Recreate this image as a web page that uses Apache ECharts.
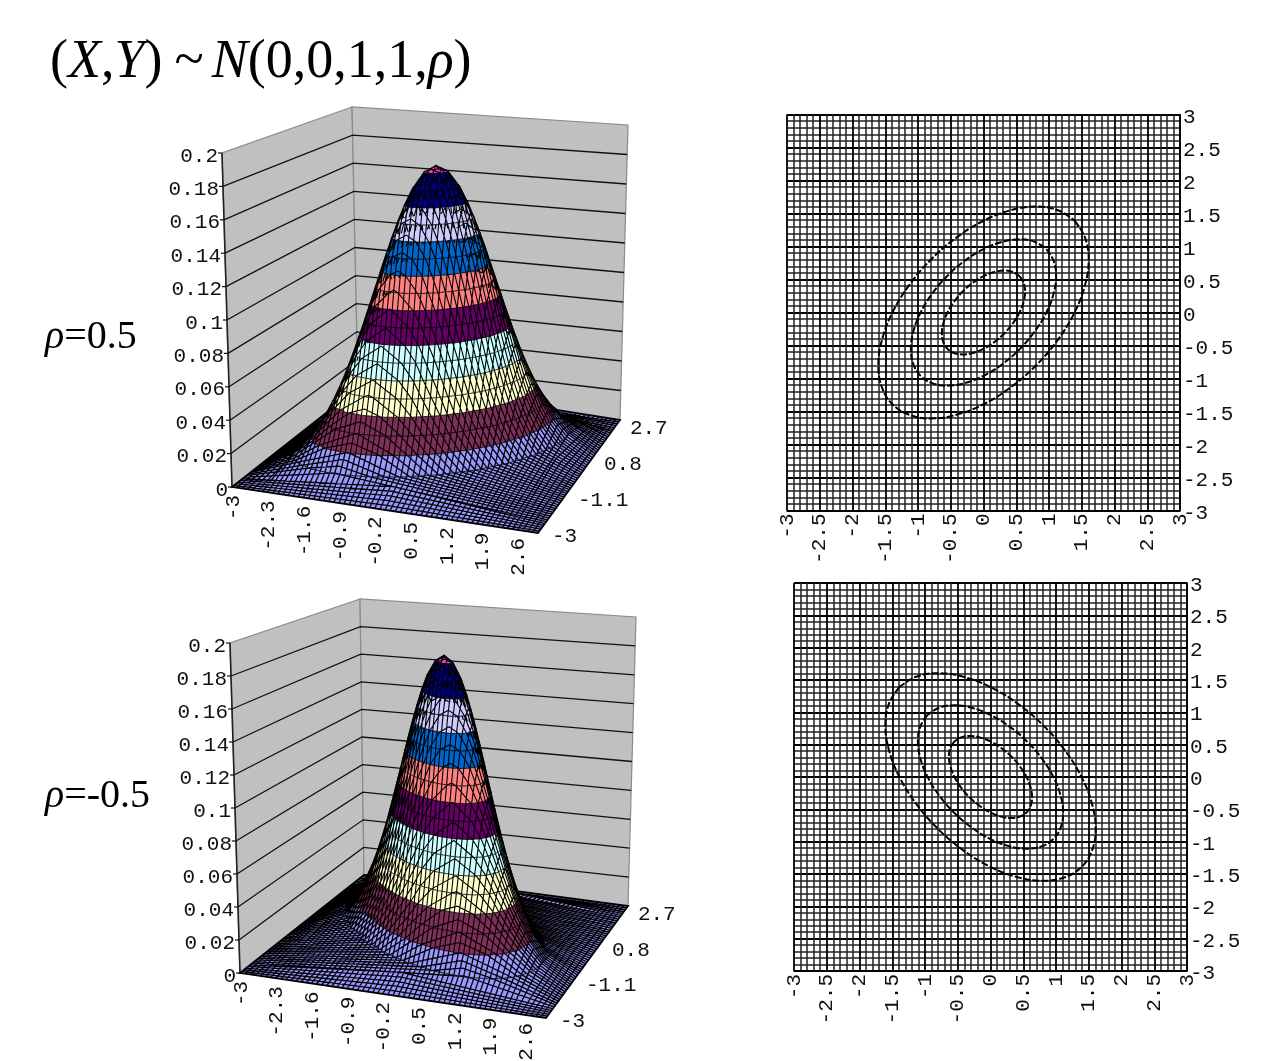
<!DOCTYPE html>
<html><head><meta charset="utf-8">
<style>html,body{margin:0;padding:0;background:#fff}#c{width:1261px;height:1061px}</style>
<script src="https://cdn.jsdelivr.net/npm/echarts@6/dist/echarts.min.js"></script>
</head><body><div id="c"></div>
<script>
// ---------- data ----------
const zTicks = [0,0.02,0.04,0.06,0.08,0.1,0.12,0.14,0.16,0.18,0.2];
const xTicks = [-3,-2.3,-1.6,-0.9,-0.2,0.5,1.2,1.9,2.6];
const yTicks = [-3,-1.1,0.8,2.7];
// outline of the hill for rho=0.5 (unit contour in the x,y plane)
const ringShape = [[1,1],[1.115,0.817],[1.155,0.577],[1.115,0.299],[1,0],[0.816,-0.298],[0.577,-0.577],[0.298,-0.816],
  [0,-1],[-0.299,-1.115],[-0.577,-1.155],[-0.817,-1.115],[-1,-1],[-1.115,-0.817],[-1.155,-0.577],[-1.115,-0.299],
  [-1,0],[-0.816,0.298],[-0.577,0.577],[-0.298,0.816],[0,1],[0.299,1.115],[0.577,1.155],[0.817,1.115]];
// surface heights and the size of the contour at that height
const surfaceLevels = [0.01,0.02,0.03,0.04,0.05,0.06,0.07,0.08,0.09,0.10,0.11,0.12,0.13,0.14,0.15,0.16,0.17,0.18,0.184];
const surfaceRadii  = [2.09,1.824,1.649,1.513,1.397,1.295,1.203,1.117,1.035,0.956,0.877,0.80,0.721,0.639,0.552,0.456,0.342,0.177,0];
const floorSquare = [[-3,-3],[3,-3],[3,3],[-3,3]];
// contour plot levels
const contourRadii = [0.55,0.96,1.39];
const bandColors = ['#9999FF','#7F3058','#FFFFCC','#CCFFFF','#660066','#FF8080','#0066CC','#CCCCFF','#000080','#FF40C0'];

// ---------- layout ----------
const FONT = '"Liberation Mono", monospace';
const panels = [
  {base:[[232,487],[538,533],[620,420],[358,388]], top:[[222,153],[542,175],[628,125],[352,107]], mirror:false},
  {base:[[240,973],[546,1018],[628,906],[364,875]], top:[[230,643],[550,662],[636,617],[360,599]], mirror:true}
];
const lerp=(a,b,t)=>[a[0]+(b[0]-a[0])*t,a[1]+(b[1]-a[1])*t];
function project(p,x,y,z){
  const u=(x+3)/6,v=(y+3)/6,w=z/0.2;
  const q=c=>lerp(lerp(c[0],c[1],u),lerp(c[3],c[2],u),v);
  return lerp(q(p.base),q(p.top),w);
}
function hull(pts){
  const s=pts.slice().sort((a,b)=>a[0]-b[0]||a[1]-b[1]);
  const cr=(o,a,b)=>(a[0]-o[0])*(b[1]-o[1])-(a[1]-o[1])*(b[0]-o[0]);
  const lo=[],up=[];
  for(const p of s){while(lo.length>1&&cr(lo[lo.length-2],lo[lo.length-1],p)<=0)lo.pop();lo.push(p);}
  for(const p of s.slice().reverse()){while(up.length>1&&cr(up[up.length-2],up[up.length-1],p)<=0)up.pop();up.push(p);}
  return lo.slice(0,-1).concat(up.slice(0,-1));
}
function crossings(ring,c,v){
  const o=1-c,hits=[];
  for(let i=0;i<ring.length;i++){
    const a=ring[i],b=ring[(i+1)%ring.length];
    if((a[c]<=v&&b[c]>v)||(b[c]<=v&&a[c]>v)){hits.push(a[o]+(b[o]-a[o])*(v-a[c])/(b[c]-a[c]));}
  }
  if(hits.length<2)return null;
  return [Math.min(...hits),Math.max(...hits)];
}
echarts.graphic.registerShape('meshPath',echarts.graphic.extendShape({
  type:'meshPath',shape:{lines:[]},
  buildPath(ctx,shape){for(const l of shape.lines){ctx.moveTo(l[0][0],l[0][1]);for(let i=1;i<l.length;i++)ctx.lineTo(l[i][0],l[i][1]);}}
}));

function ringsFor(p){
  const flip=p.mirror?-1:1;
  const rings=[{z:0,pts:floorSquare}];
  surfaceLevels.forEach((z,i)=>rings.push({z,pts:ringShape.map(s=>[flip*s[0]*surfaceRadii[i],s[1]*surfaceRadii[i]])}));
  return rings;
}
function extent(ring,c){return Math.max(...ring.map(q=>Math.abs(q[c])));}

function surfaceSeries(p){
  const rings=ringsFor(p);
  const data=rings.slice(0,-1).map((r,i)=>[i,0]);
  return {type:'custom',xAxisIndex:2,yAxisIndex:2,clip:false,silent:true,animation:false,data,
    renderItem(params,api){
      const i=api.value(0),A=rings[i],B=rings[i+1];
      const pt=(x,y,z)=>api.coord(project(p,x,y,z));
      const poly=hull(A.pts.map(q=>pt(q[0],q[1],A.z)).concat(B.pts.map(q=>pt(q[0],q[1],B.z))));
      const lines=[];
      for(let c=0;c<2;c++){
        const P=(v,o,z)=>c===0?pt(v,o,z):pt(o,v,z);
        const Ea=extent(A.pts,c),Eb=extent(B.pts,c);
        for(let k=1;k<60;k++){
          const v=-3+k*0.1;
          const ca=crossings(A.pts,c,v);
          if(!ca)continue;
          const cb=crossings(B.pts,c,v);
          if(cb){
            lines.push([P(v,ca[0],A.z),P(v,cb[0],B.z)]);
            lines.push([P(v,cb[1],B.z),P(v,ca[1],A.z)]);
          }else{
            const f=Math.max(0,(Ea-Math.abs(v))/Math.max(Ea-Eb,1e-6));
            lines.push([P(v,ca[0],A.z),P(v,(ca[0]+ca[1])/2,A.z+(B.z-A.z)*f),P(v,ca[1],A.z)]);
          }
        }
      }
      const col=bandColors[Math.floor((A.z+1e-6)/0.02)];
      return {type:'group',children:[
        {type:'polygon',shape:{points:poly},style:{fill:col,stroke:'#000',lineWidth:i===0?1.8:0.8}},
        {type:'meshPath',shape:{lines},style:{fill:null,stroke:'#000',lineWidth:A.z<0.02?1.3:1.1}}
      ]};
    }};
}
function wallSeries(p){
  return {type:'custom',xAxisIndex:2,yAxisIndex:2,clip:false,silent:true,animation:false,
    data:zTicks.map((z,i)=>[i,z]),
    renderItem(params,api){
      const i=api.value(0),z=api.value(1);
      const pt=(x,y,h)=>api.coord(project(p,x,y,h));
      const ch=[];
      if(i===0){
        ch.push({type:'polygon',shape:{points:[pt(-3,-3,0),pt(-3,-3,0.2),pt(-3,3,0.2),pt(-3,3,0)]},style:{fill:'#C0C0C0',stroke:'#8a8a8a',lineWidth:1.2}});
        ch.push({type:'polygon',shape:{points:[pt(-3,3,0),pt(-3,3,0.2),pt(3,3,0.2),pt(3,3,0)]},style:{fill:'#C0C0C0',stroke:'#8a8a8a',lineWidth:1.2}});
        ch.push({type:'line',shape:{x1:pt(-3,-3,0)[0],y1:pt(-3,-3,0)[1],x2:pt(-3,-3,0.2)[0],y2:pt(-3,-3,0.2)[1]},style:{stroke:'#222',lineWidth:1.6}});
      } else if(i<zTicks.length-1){
        ch.push({type:'polyline',shape:{points:[pt(-3,-3,z),pt(-3,3,z),pt(3,3,z)]},style:{fill:null,stroke:'#111',lineWidth:1.3}});
      }
      return {type:'group',children:ch};
    }};
}
function labelSeries(p){
  const items=[];
  zTicks.forEach(v=>items.push(['z',v]));
  xTicks.forEach(v=>items.push(['x',v]));
  yTicks.forEach(v=>items.push(['y',v]));
  return {type:'custom',xAxisIndex:2,yAxisIndex:2,clip:false,silent:true,animation:false,z:5,
    data:items.map((d,i)=>[i,d[1]]),
    renderItem(params,api){
      const d=items[api.value(0)],v=d[1];
      const st={text:String(v),font:'21px '+FONT,fill:'#111'};
      if(d[0]==='z'){
        const q=api.coord(project(p,-3,-3,v));
        return {type:'group',children:[
          {type:'line',shape:{x1:q[0]-4,y1:q[1],x2:q[0],y2:q[1]},style:{stroke:'#111',lineWidth:1.2}},
          {type:'text',x:q[0]-4,y:q[1]+3,style:Object.assign(st,{align:'right',verticalAlign:'middle'})}]};
      }
      if(d[0]==='x'){
        const q=api.coord(project(p,v,-3,0));
        return {type:'text',x:q[0]+1,y:q[1]+8,rotation:Math.PI/2,style:Object.assign(st,{align:'right',verticalAlign:'middle'})};
      }
      const q=api.coord(project(p,3,v,0));
      return {type:'text',x:q[0]+14,y:q[1]+3,style:Object.assign(st,{align:'left',verticalAlign:'middle'})};
    }};
}
function contourSeries(idx,flip){
  return contourRadii.map(r=>{
    const pts=ringShape.map(s=>[flip*s[0]*r,s[1]*r]);
    pts.push(pts[0]);
    return {type:'line',xAxisIndex:idx,yAxisIndex:idx,data:pts,smooth:0.4,symbol:'none',silent:true,animation:false,z:4,
      lineStyle:{color:'#000',width:2,type:[7,2]}};
  });
}
const axisLabel=(rot)=>({rotate:rot,margin:3,color:'#111',fontFamily:'Liberation Mono',fontSize:21});
const yAxisLabel=()=>({margin:3,formatter:v=>'{a|'+v+'}',
  rich:{a:{color:'#111',fontFamily:'Liberation Mono',fontSize:21,padding:[5,0,0,0]}}});
const valueAxis=(idx,extra)=>Object.assign({type:'value',gridIndex:idx,min:-3,max:3,interval:0.5,
  axisLine:{show:true,onZero:false,lineStyle:{color:'#000',width:1.6}},axisTick:{show:false},
  splitLine:{show:true,lineStyle:{color:'#000',width:1.8}},
  minorTick:{show:false,splitNumber:5},
  minorSplitLine:{show:true,lineStyle:{color:'#222',width:1.5}}},extra);
const textRich=(size,gapA,gapB)=>({
  r:{fontFamily:'Liberation Serif',fontSize:size,fontWeight:'normal',color:'#000'},
  i:{fontFamily:'Liberation Serif',fontStyle:'italic',fontWeight:'normal',fontSize:size,color:'#000'},
  s:{width:gapA,fontSize:size},t:{width:gapB,fontSize:size}});
const option={
  backgroundColor:'#fff',animation:false,
  title:[
    {text:'{r|(}{i|X}{r|,}{i|Y}{r|)}{s| }{r|~}{t| }{i|N}{r|(0,0,1,1,}{i|ρ}{r|)}',left:50,top:36,padding:0,textStyle:{fontWeight:'normal',rich:textRich(54,12,8)}},
    {text:'{i|ρ}{r|=0.5}',left:45,top:317,padding:0,textStyle:{fontWeight:'normal',rich:textRich(40,0,0)}},
    {text:'{i|ρ}{r|=-0.5}',left:45,top:776,padding:0,textStyle:{fontWeight:'normal',rich:textRich(40,0,0)}}
  ],
  grid:[
    {left:787,top:114.5,width:393,height:396},
    {left:794,top:583,width:393,height:388},
    {left:0,top:0,width:1261,height:1061}
  ],
  xAxis:[
    valueAxis(0,{axisLabel:axisLabel(90)}),
    valueAxis(1,{axisLabel:axisLabel(90)}),
    {type:'value',gridIndex:2,min:0,max:1261,show:false,splitLine:{show:false}}
  ],
  yAxis:[
    valueAxis(0,{position:'right',axisLabel:yAxisLabel()}),
    valueAxis(1,{position:'right',axisLabel:yAxisLabel()}),
    {type:'value',gridIndex:2,min:0,max:1061,inverse:true,show:false,splitLine:{show:false}}
  ],
  series:[
    ...contourSeries(0,1),
    ...contourSeries(1,-1),
    wallSeries(panels[0]),surfaceSeries(panels[0]),labelSeries(panels[0]),
    wallSeries(panels[1]),surfaceSeries(panels[1]),labelSeries(panels[1])
  ]
};
const chart=echarts.init(document.getElementById('c'),null,{renderer:'canvas'});
chart.setOption(option);
</script></body></html>
